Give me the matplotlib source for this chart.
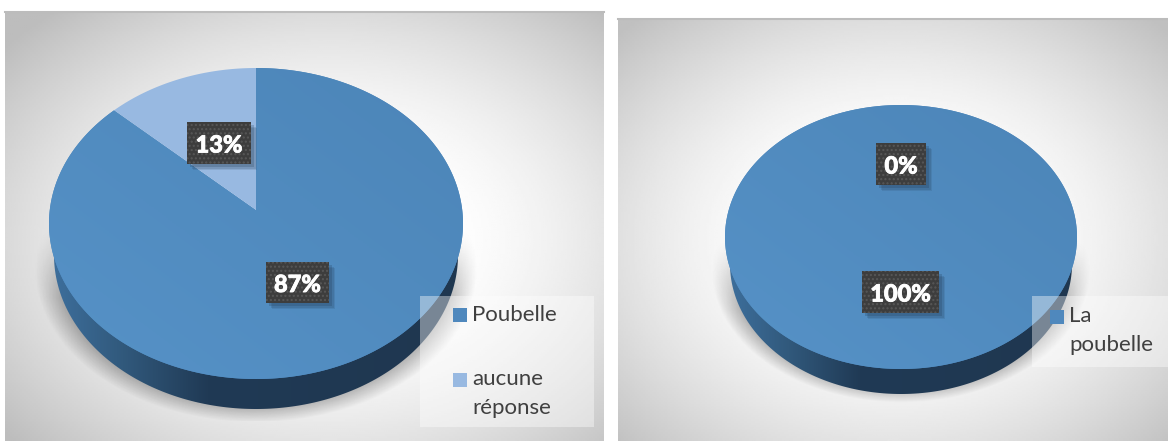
import numpy as np
import matplotlib
matplotlib.use("Agg")
import matplotlib.pyplot as plt
import matplotlib.patheffects as pe
from matplotlib.patches import Rectangle, Polygon
from matplotlib.colors import LinearSegmentedColormap

# values
values_left = [87, 13]
names_left = ["Poubelle", "aucune\nréponse"]
values_right = [100, 0]
names_right = ["La\npoubelle"]

BLUE = "#4f88bd"
LIGHT = "#98b9e1"
K = 0.0868  # perspective of the tilted pie

plt.rcParams["font.family"] = ["Lato", "DejaVu Sans"]

fig = plt.figure(figsize=(11.68, 4.41), dpi=100)
ax = fig.add_axes([0, 0, 1, 1])


def background(x0, x1, y0, y1, cx, cy, corner):
    xx, yy = np.meshgrid(np.linspace(x0, x1, 300), np.linspace(y0, y1, 220))
    d = np.hypot((xx - cx) / (x1 - x0), (yy - cy) / (y1 - y0)) * 1.41
    d = np.clip((d - 0.25) / 0.75, 0, 1) ** 1.5
    g = 1 - d * (1 - corner)
    ax.imshow(g, extent=(x0, x1, y1, y0), cmap="gray", vmin=0, vmax=1, aspect="auto", zorder=1)
    ax.plot([x0, x1], [y0, y0], color="#bcbcbc", lw=1.5, zorder=2)


def shadow(cx, cy, rx, ry, x0, x1, y0, y1):
    xx, yy = np.meshgrid(np.linspace(x0, x1, 300), np.linspace(y0, y1, 200))
    d = np.hypot((xx - cx) / rx, (yy - cy) / ry)
    a = np.clip((1.0 - d) / 0.14, 0, 1) * np.clip((yy - y0) / 70, 0, 1) * 0.36
    img = np.zeros(a.shape + (4,))
    img[..., 3] = a
    ax.imshow(img, extent=(x0, x1, y1, y0), aspect="auto", zorder=3)


def wall(cx, cy, rx, ry):
    t = np.linspace(0, np.pi, 200)
    pts = np.column_stack([cx + rx * np.cos(t), cy + ry * np.sin(t)])
    patch = Polygon(pts, closed=True, fc="none", ec="none", zorder=4)
    ax.add_patch(patch)
    cmap = LinearSegmentedColormap.from_list(
        "wall", [(0, "#3d6e9b"), (0.17, "#31597c"), (0.38, "#203a55"), (1, "#1f3750")])
    grad = np.linspace(0, 1, 256).reshape(1, -1)
    im = ax.imshow(grad, extent=(cx - rx, cx + rx, cy + ry, cy), cmap=cmap, aspect="auto", zorder=4)
    im.set_clip_path(patch)


def pie(values, colors, cx, top, bottom, half):
    # ax.pie gives the wedges, they are then put in perspective
    a = (bottom - top) * (1 - K ** 2) / 2
    b = half * np.sqrt(1 - K ** 2)
    apex = top + a / (1 + K)
    wedges = ax.pie(values, colors=colors, startangle=90, counterclock=False)[0]
    surface = LinearSegmentedColormap.from_list("surface", ["#5692c7", "#4c85b8"])
    xg, yg = np.meshgrid(np.linspace(0, 1, 200), np.linspace(1, 0, 200))
    for w, color in zip(wedges, colors):
        path = w.get_patch_transform().transform_path(w.get_path())
        pts = np.vstack([bez(np.linspace(0, 1, 40)) for bez, code in path.iter_bezier()])
        den = 1 + K * pts[:, 1]
        xy = np.column_stack([cx + b * pts[:, 0] / den, apex - a * pts[:, 1] / den])
        patch = Polygon(xy, closed=True, fc=color, ec="none", zorder=5)
        ax.add_patch(patch)
        if color == BLUE:
            im = ax.imshow((xg + yg) / 2, extent=(cx - half, cx + half, bottom, top), cmap=surface,
                           aspect="auto", zorder=5)
            im.set_clip_path(patch)
        w.remove()


def label(text, x0, x1, y0, y1):
    for i, al in enumerate([0.12, 0.16, 0.22]):
        off = 6 - i * 1.5
        ax.add_patch(Rectangle((x0 + off, y0 + off), x1 - x0, y1 - y0, fc="#1f3750", ec="none", alpha=al, zorder=6))
    ax.add_patch(Rectangle((x0, y0), x1 - x0, y1 - y0, fc="#3d3d3d", ec="#575757", hatch="....", lw=0, zorder=7))
    ax.text((x0 + x1) / 2, (y0 + y1) / 2, text, color="white", fontsize=17, fontweight="black",
            ha="center", va="center_baseline", zorder=8,
            path_effects=[pe.withStroke(linewidth=0.6, foreground="white")])


def legend(x0, x1, y0, y1, rows):
    ax.add_patch(Rectangle((x0, y0), x1 - x0, y1 - y0, fc="white", ec="none", alpha=0.4, zorder=9))
    for name, color, mx, my, tx, ty in rows:
        ax.add_patch(Rectangle((mx, my - 7), 14, 14, fc=color, ec="none", zorder=10))
        ax.text(tx, ty, name, color="#404040", fontsize=16, ha="left", va="top",
                linespacing=1.55, zorder=10)


background(5, 604, 12, 441, 330, 240, 0.74)
background(618, 1168, 19, 441, 895, 240, 0.75)

shadow(256, 268, 222, 155, 34, 478, 228, 421)
shadow(901, 270, 190, 133, 712, 1090, 240, 405)

wall(256, 255, 202, 154)
wall(901, 264, 171, 130)

pie(values_left, [BLUE, LIGHT], 256, 68, 379, 207)
pie(values_right, [BLUE, LIGHT], 901, 105, 369, 176)

label(f"{values_left[1]}%", 187, 251, 122, 164)
label(f"{values_left[0]}%", 266, 329, 262, 303)
label(f"{values_right[1]}%", 876, 926, 143, 185)
label(f"{values_right[0]}%", 862, 939, 271, 313)

legend(420, 594, 296, 427, [(names_left[0], BLUE, 453, 315, 472, 305),
                            (names_left[1], LIGHT, 453, 380, 472, 369)])
legend(1032, 1168, 296, 367, [(names_right[0], BLUE, 1050, 317, 1069, 306)])

ax.set_aspect("auto")
ax.set_xlim(0, 1168)
ax.set_ylim(441, 0)
ax.axis("off")

fig.savefig("out.png", dpi=100, facecolor="white")
